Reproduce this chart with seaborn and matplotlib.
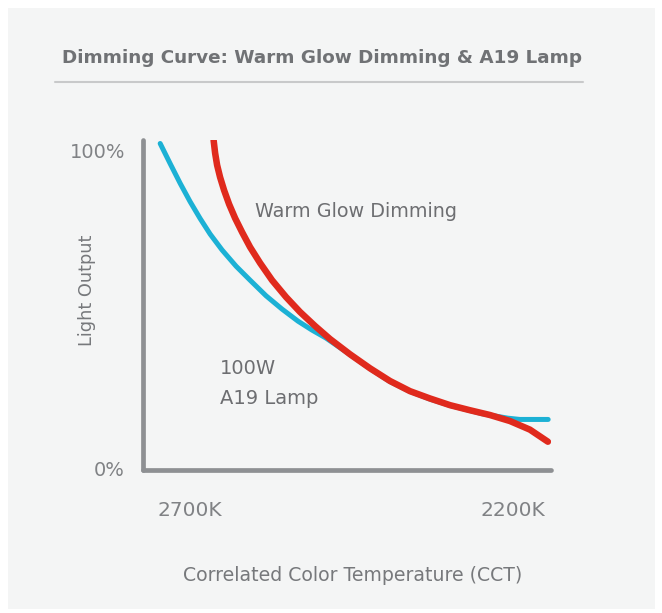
import matplotlib
matplotlib.use("Agg")
import matplotlib.pyplot as plt
import seaborn as sns
import pandas as pd
from matplotlib.patches import Rectangle
from matplotlib.lines import Line2D

# ---- data ----
cct_a19 = [2746.4, 2731.0, 2715.5, 2700.0, 2684.5, 2669.0, 2650.5, 2628.8, 2607.1, 2582.4,
           2557.6, 2532.8, 2511.1, 2489.5, 2452.3, 2421.4, 2390.4, 2359.4, 2328.5, 2297.5,
           2266.6, 2248.0, 2227.9, 2207.7, 2189.2, 2145.4]
light_a19 = [102.1, 95.8, 89.6, 83.8, 78.5, 73.6, 68.6, 63.5, 59.1, 54.2,
             50.0, 46.2, 43.4, 40.9, 35.7, 31.3, 27.2, 24.1, 21.7, 19.7,
             18.1, 17.1, 16.4, 15.7, 15.3, 15.3]

cct_wgd = [2663.6, 2661.3, 2658.2, 2653.6, 2647.4, 2639.6, 2630.3, 2619.5, 2607.1, 2591.6,
           2573.1, 2551.4, 2529.7, 2506.5, 2483.3, 2452.3, 2421.4, 2390.4, 2359.4, 2328.5,
           2297.5, 2266.6, 2235.6, 2204.6, 2173.7, 2145.8]
light_wgd = [103.1, 99.1, 95.3, 91.5, 87.4, 83.0, 78.6, 74.2, 69.5, 64.5,
             59.1, 53.8, 49.1, 44.7, 40.6, 35.8, 31.4, 27.4, 24.2, 21.9,
             19.8, 18.2, 16.7, 14.8, 12.1, 8.3]

x_ticks = [2700, 2200]
x_tick_labels = ["2700K", "2200K"]
y_ticks = [0, 100]
y_tick_labels = ["0%", "100%"]

title = "Dimming Curve: Warm Glow Dimming & A19 Lamp"
x_label = "Correlated Color Temperature (CCT)"
y_label = "Light Output"

df_a19 = pd.DataFrame({"cct": cct_a19, "light": light_a19})
df_wgd = pd.DataFrame({"cct": cct_wgd, "light": light_wgd})

sns.set_style("white")
plt.rcParams["font.family"] = ["DejaVu Sans"]

W, H = 662, 613
fig = plt.figure(figsize=(W / 100, H / 100), dpi=100, facecolor="white")

# panel background
fig.patches.append(Rectangle((8 / W, 4 / H), (655 - 8) / W, (609 - 8) / H,
                             transform=fig.transFigure, facecolor="#f4f5f5",
                             edgecolor="none", zorder=-10))

ax = fig.add_axes([143 / W, 1 - 470 / H, (551 - 143) / W, (470 - 140) / H])
ax.set_facecolor("none")

blue = "#1cb1d5"
red = "#e02a1d"
sns.lineplot(data=df_a19, x="cct", y="light", ax=ax, color=blue, linewidth=3.6,
             estimator=None, sort=False, solid_capstyle="round", solid_joinstyle="round")
sns.lineplot(data=df_wgd, x="cct", y="light", ax=ax, color=red, linewidth=4.7,
             estimator=None, sort=False, solid_capstyle="round", solid_joinstyle="round")

ax.set_xlim(2773, 2141)
ax.set_ylim(-0.6, 103.2)

for s in ["top", "right"]:
    ax.spines[s].set_visible(False)
for s in ["left", "bottom"]:
    ax.spines[s].set_color("#8e9093")
    ax.spines[s].set_linewidth(3.4)
    ax.spines[s].set_capstyle("round")

text_gray = "#77797c"
ax.set_xticks(x_ticks)
ax.set_xticklabels(x_tick_labels)
ax.set_yticks(y_ticks)
ax.set_yticklabels(y_tick_labels)
ax.tick_params(axis="both", length=0, labelcolor="#808285")
ax.tick_params(axis="x", pad=22, labelsize=14.5)
ax.tick_params(axis="y", pad=13, labelsize=14)

ax.set_xlabel(x_label, fontsize=13.6, color=text_gray)
ax.set_ylabel(y_label, fontsize=12.8, color=text_gray)
ax.xaxis.set_label_coords(0.515, -0.292)
ax.yaxis.set_label_coords(-0.115, 0.545)

# annotations
ax.text(2599, 80.6, "Warm Glow Dimming", fontsize=13.8, color="#6d6e71", va="center", ha="left")
ax.text(2654, 26.6, "100W\nA19 Lamp", fontsize=14, color="#6d6e71", va="center", ha="left",
        linespacing=1.7)

# title and rule
fig.text(322 / W, 1 - 58 / H, title, fontsize=13.2, fontweight="bold", color="#707275",
         ha="center", va="center")
fig.lines.append(Line2D([55 / W, 583 / W], [1 - 82 / H, 1 - 82 / H], transform=fig.transFigure,
                        color="#c8c9ca", linewidth=1.5))

fig.savefig("out.png", dpi=100, facecolor="white")
